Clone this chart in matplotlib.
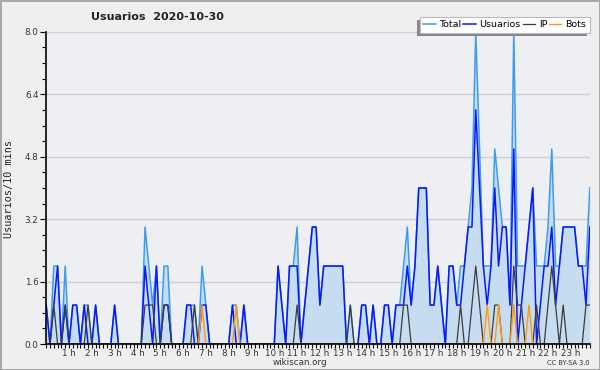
import numpy as np
import matplotlib.pyplot as plt
from matplotlib.ticker import MultipleLocator, FixedLocator
from matplotlib.patches import Rectangle

# values per 10 minutes (144 slots)
usuarios = [1, 0, 1, 2, 0, 1, 0, 1, 1, 0,
            1, 0, 0, 1, 0, 0, 0, 0, 1, 0,
            0, 0, 0, 0, 0, 0, 2, 1, 0, 2,
            0, 1, 1, 0, 0, 0, 0, 1, 1, 0,
            0, 1, 1, 0, 0, 0, 0, 0, 0, 1,
            0, 0, 1, 0, 0, 0, 0, 0, 0, 0,
            0, 2, 1, 0, 2, 2, 2, 0, 1, 2,
            3, 3, 1, 2, 2, 2, 2, 2, 2, 0,
            0, 0, 0, 1, 1, 0, 1, 0, 0, 1,
            1, 0, 1, 1, 1, 2, 1, 2, 4, 4,
            4, 1, 1, 2, 1, 0, 2, 2, 1, 1,
            2, 3, 3, 6, 4, 2, 1, 2, 4, 2,
            3, 3, 1, 5, 0, 1, 2, 3, 4, 0,
            1, 2, 2, 3, 1, 2, 3, 3, 3, 3,
            2, 2, 1, 3]

ip = [0, 0, 1, 0, 0, 1, 0, 0, 0, 0,
      0, 1, 0, 0, 0, 0, 0, 0, 0, 0,
      0, 0, 0, 0, 0, 0, 1, 1, 1, 0,
      0, 1, 1, 0, 0, 0, 0, 0, 0, 1,
      0, 0, 0, 0, 0, 0, 0, 0, 0, 0,
      0, 0, 0, 0, 0, 0, 0, 0, 0, 0,
      0, 0, 0, 0, 0, 0, 1, 0, 0, 0,
      0, 0, 0, 0, 0, 0, 0, 0, 0, 0,
      1, 0, 0, 0, 0, 0, 0, 0, 0, 0,
      0, 0, 0, 0, 1, 1, 0, 0, 0, 0,
      0, 0, 0, 0, 0, 0, 0, 0, 0, 1,
      0, 0, 1, 2, 1, 0, 0, 0, 1, 1,
      0, 0, 0, 2, 1, 1, 0, 0, 0, 1,
      0, 0, 1, 2, 1, 0, 1, 0, 0, 0,
      0, 0, 1, 1]

bots = [0] * 144
for k in [41, 50, 116, 119, 123, 127]:
    bots[k] = 1

total = [1, 0, 2, 2, 0, 2, 0, 1, 1, 0,
         1, 1, 0, 1, 0, 0, 0, 0, 1, 0,
         0, 0, 0, 0, 0, 0, 3, 2, 1, 2,
         0, 2, 2, 0, 0, 0, 0, 1, 1, 1,
         0, 2, 1, 0, 0, 0, 0, 0, 0, 1,
         1, 0, 1, 0, 0, 0, 0, 0, 0, 0,
         0, 2, 1, 0, 2, 2, 3, 0, 1, 2,
         3, 3, 1, 2, 2, 2, 2, 2, 2, 0,
         1, 0, 0, 1, 1, 0, 1, 0, 0, 1,
         1, 0, 1, 1, 2, 3, 1, 2, 4, 4,
         4, 1, 1, 2, 1, 0, 2, 2, 1, 2,
         2, 3, 4, 8, 5, 2, 2, 2, 5, 4,
         3, 3, 1, 8, 2, 2, 2, 3, 4, 2,
         2, 2, 3, 5, 2, 2, 3, 3, 3, 3,
         2, 2, 2, 4]

hours = list(range(1, 24))
hour_labels = ["%d h" % h for h in hours]

x = np.arange(len(total))

fig = plt.figure(figsize=(6, 3.7), dpi=100)
fig.patch.set_facecolor('#efefef')
fig.patch.set_edgecolor('#a8a8a8')
fig.patch.set_linewidth(2)

ax = fig.add_axes([0.077, 0.07, 0.906, 0.844])
ax.set_facecolor('#eeeff2')

ax.fill_between(x, total, color='#c6dcf0', lw=0)
ax.plot(x, total, color='#3d9cf0', lw=1.1, label='Total')
ax.plot(x, usuarios, color='#0a18ff', lw=1.1, label='Usuarios')
ax.plot(x, ip, color='#3c3c3c', lw=0.9, label='IP')
ax.plot(x, bots, color='#ff9a10', lw=1.0, label='Bots')

ax.set_xlim(0, 143)
ax.set_ylim(0, 8)

ax.set_yticks(np.arange(0, 8.01, 1.6))
ax.set_yticklabels(["%.1f" % v for v in np.arange(0, 8.01, 1.6)])
ax.yaxis.set_minor_locator(MultipleLocator(0.4))
ax.grid(axis='y', color='#cfcfcf', lw=1)
ax.set_axisbelow(True)

ax.xaxis.set_major_locator(FixedLocator([h * 6 for h in hours]))
ax.set_xticklabels(hour_labels)
ax.xaxis.set_minor_locator(MultipleLocator(1))

ax.tick_params(axis='both', which='both', direction='out', color='black', labelsize=6.3, labelcolor='#333333')
ax.tick_params(axis='x', which='both', length=3, width=0.8, pad=0.5)
ax.tick_params(axis='y', which='major', length=4, width=0.8, pad=1.5)
ax.tick_params(axis='y', which='minor', length=3, width=0.8)

for side in ['top', 'right']:
    ax.spines[side].set_visible(False)
for side in ['left', 'bottom']:
    ax.spines[side].set_color('black')
    ax.spines[side].set_linewidth(1.2)

fig.text(0.263, 0.955, "Usuarios  2020-10-30", ha='center', va='center', fontsize=8, fontweight='bold', color='#222222')
fig.text(0.015, 0.49, "Usuarios/10 mins", rotation=90, ha='center', va='center', fontsize=7.3, family='DejaVu Sans Mono', color='#222222')
fig.text(0.5, 0.019, "wikiscan.org", ha='center', va='center', fontsize=6.3, color='#333333')
fig.text(0.983, 0.019, "CC BY-SA 3.0", ha='right', va='center', fontsize=4.8, color='#333333')

leg = ax.legend(loc='upper right', bbox_to_anchor=(0.983, 0.955), bbox_transform=fig.transFigure,
                ncol=4, fontsize=6.8, frameon=True, fancybox=False, framealpha=1,
                handlelength=1.3, handletextpad=0.4, columnspacing=0.2, borderpad=0.4, borderaxespad=0)
leg.get_frame().set_edgecolor('#bbbbbb')
leg.get_frame().set_linewidth(0.8)

# shadow offset to the lower left, like the original
fig.canvas.draw()
bb = leg.get_window_extent()
ax.add_patch(Rectangle((bb.x0 - 3, bb.y0 - 3), bb.width, bb.height, transform=None,
                       facecolor='#888888', edgecolor='none', zorder=4.5, clip_on=False))

fig.savefig('out.png', dpi=100, facecolor=fig.get_facecolor(), edgecolor=fig.get_edgecolor())
